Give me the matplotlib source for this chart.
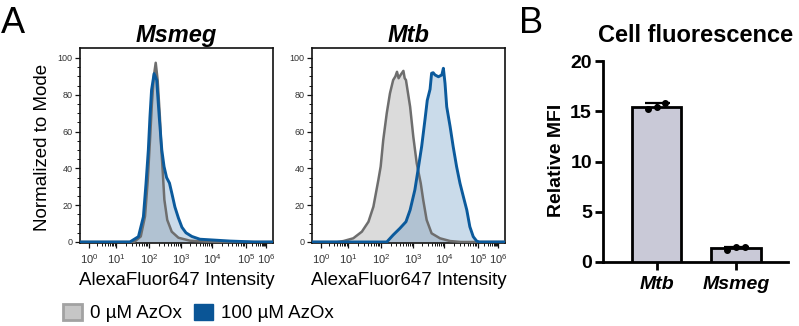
import numpy as np
import matplotlib
matplotlib.use("Agg")
import matplotlib.pyplot as plt
from matplotlib.patches import Patch
from matplotlib.ticker import FixedLocator, NullFormatter

plt.rcParams['font.family'] = ['Liberation Sans', 'DejaVu Sans']
plt.rcParams['mathtext.fontset'] = 'custom'
plt.rcParams['mathtext.rm'] = 'Liberation Sans'
plt.rcParams['mathtext.it'] = 'Liberation Sans:italic'
plt.rcParams['mathtext.bf'] = 'Liberation Sans:bold'

# ---------------- data ----------------
# histograms: x = log10(AlexaFluor647 intensity), y = % of mode
msmeg_0_x = [-0.33, 1.55, 1.75, 1.88, 1.96, 2.03, 2.09, 2.15, 2.21, 2.27, 2.34, 2.38,
             2.42, 2.48, 2.57, 2.71, 2.92, 3.29, 3.80, 4.30, 6.35]
msmeg_0_y = [0, 0, 3, 14, 33, 55, 75, 90, 97.4, 88, 68, 52,
             41, 23, 12, 5.6, 2.3, 0.7, 0.2, 0, 0]
msmeg_100_x = [-0.33, 1.42, 1.68, 1.83, 1.91, 1.98, 2.03, 2.08, 2.16, 2.24, 2.32, 2.40,
               2.47, 2.55, 2.64, 2.72, 2.81, 2.92, 3.03, 3.16, 3.35, 3.61, 4.09, 4.53,
               4.97, 5.40, 6.35]
msmeg_100_y = [0, 0, 2.9, 13.7, 31.9, 50, 68, 82.6, 91.5, 88, 68, 50,
               41, 35, 32, 26, 19, 13, 8, 5, 3, 1.5, 1, 0.5,
               0.2, 0, 0]
mtb_0_x = [-0.33, 0.60, 0.83, 1.16, 1.42, 1.62, 1.77, 1.92, 1.99, 2.07, 2.18, 2.28,
           2.38, 2.45, 2.50, 2.55, 2.62, 2.70, 2.74, 2.78, 2.91, 3.01, 3.12, 3.25,
           3.33, 3.44, 3.60, 3.87, 4.18, 4.50, 6.35]
mtb_0_y = [0, 0, 0.5, 2, 5.6, 11, 19.2, 33.7, 41, 55.4, 70, 80.8,
           88, 90, 92.5, 89, 91, 93, 89, 88, 73.5, 57.2, 42.8, 31.9,
           22.8, 12, 4.7, 2, 0.5, 0, 0]
mtb_100_x = [-0.33, 2.18, 2.38, 2.59, 2.78, 2.91, 3.06, 3.17, 3.28, 3.39, 3.46, 3.55,
             3.60, 3.65, 3.71, 3.82, 3.93, 3.98, 4.03, 4.08, 4.18, 4.27, 4.37, 4.47,
             4.57, 4.67, 4.76, 4.86, 4.96, 5.06, 6.35]
mtb_100_y = [0, 0, 3.8, 7.4, 11, 17.4, 28.3, 40, 52, 67, 77, 83,
             91.7, 92, 90.8, 89.8, 90.8, 94.4, 86.2, 73.5, 62.7, 51.8, 41, 31.9,
             24.6, 17.4, 8.3, 2.9, 0.5, 0, 0]

decades = [0, 1, 2, 3, 4, 5, 6]
legend_labels = ['0 µM AzOx', '100 µM AzOx']

# bar chart
bar_categories = ['Mtb', 'Msmeg']
mtb_mfi = [15.2, 15.4, 15.8]
msmeg_mfi = [1.2, 1.45, 1.45]

# ---------------- styles ----------------
GRAY_LINE = '#6e6e6e'
GRAY_FILL = '#d2d2d2'
BLUE_LINE = '#0b5a9c'
BLUE_FILL = '#5b8fc0'
BAR_FILL = '#c9c9d7'

# axis scale of the flow-cytometry plots (decade -> axis units)
_D = np.array([-1, 0, 1, 2, 3, 4, 5, 6, 7], float)
_P = np.array([-18, 9, 36, 69, 101, 132, 166, 186, 206], float)


def fwd(x):
    return np.interp(x, _D, _P)


def inv(p):
    return np.interp(p, _P, _D)


XLIM = (inv(0.0), inv(193.0))

fig = plt.figure(figsize=(7.99, 3.26), dpi=100)
W, H = 799.0, 326.0


def ax_rect(x0, y0, x1, y1):
    return [x0 / W, 1 - y1 / H, (x1 - x0) / W, (y1 - y0) / H]


ax1 = fig.add_axes(ax_rect(80, 48, 273, 242.9))
ax2 = fig.add_axes(ax_rect(312, 48, 505, 242.9))

minor_pos = [d + np.log10(k) for d in range(0, 6) for k in range(2, 10)]

for ax, title, (x0, y0, x1, y1) in [
        (ax1, 'Msmeg', (msmeg_0_x, msmeg_0_y, msmeg_100_x, msmeg_100_y)),
        (ax2, 'Mtb', (mtb_0_x, mtb_0_y, mtb_100_x, mtb_100_y))]:
    ax.set_xscale('function', functions=(fwd, inv))
    ax.fill_between(x0, y0, 0, color=GRAY_FILL, alpha=0.8, lw=0, zorder=1)
    ax.fill_between(x1, y1, 0, color=BLUE_FILL, alpha=0.32, lw=0, zorder=2)
    ax.plot(x0, y0, color=GRAY_LINE, lw=1.8, zorder=3)
    ax.plot(x1, y1, color=BLUE_LINE, lw=2.1, zorder=4)
    ax.set_xlim(*XLIM)
    ax.set_ylim(-0.5, 105.43)
    ax.xaxis.set_major_locator(FixedLocator(decades))
    ax.xaxis.set_minor_locator(FixedLocator(minor_pos))
    ax.xaxis.set_minor_formatter(NullFormatter())
    ax.set_xticklabels([f'$10^{{{d}}}$' for d in decades])
    ax.set_yticks([0, 20, 40, 60, 80, 100])
    ax.set_yticks(np.arange(0, 105, 5), minor=True)
    ax.tick_params(axis='both', which='major', direction='out', length=3.5,
                   width=0.9, labelsize=6.5, pad=2, colors='#111111',
                   labelcolor='#333333')
    ax.tick_params(axis='both', which='minor', direction='out', length=2,
                   width=0.7, colors='#111111')
    ax.tick_params(axis='x', which='major', labelsize=8, pad=3)
    for s in ax.spines.values():
        s.set_linewidth(1.2)
        s.set_color('#111111')
    ax.set_title(title, fontsize=17, fontweight='bold', fontstyle='italic', pad=4)
    ax.set_xlabel('AlexaFluor647 Intensity', fontsize=13.5)
    ax.xaxis.label.set_verticalalignment('baseline')
    ax.xaxis.set_label_coords(0.5, (242.9 - 285) / 194.9)

ax1.set_ylabel('Normalized to Mode', fontsize=13.5)
ax1.yaxis.set_label_coords((51 - 80) / 193.0, 0.49)

# legend
handles = [Patch(facecolor='#c6c6c6', edgecolor='#a2a2a2', lw=2),
           Patch(facecolor='#0a5596', edgecolor='#0a5596', lw=1)]
fig.legend(handles, legend_labels, loc='center left',
           bbox_to_anchor=(63 / W, 1 - 313 / H), ncol=2, frameon=False,
           fontsize=13.5, handlelength=1.0, handleheight=1.0,
           handletextpad=0.45, columnspacing=0.65, borderpad=0, borderaxespad=0)

# bar chart
ax3 = fig.add_axes(ax_rect(603, 61, 788, 262))
vals = [mtb_mfi, msmeg_mfi]
xpos = np.arange(len(bar_categories))
means = [np.mean(v) for v in vals]
sds = [np.std(v, ddof=1) for v in vals]
ax3.errorbar(xpos, means, yerr=sds, fmt='none', ecolor='black', elinewidth=1.6,
             capsize=9, capthick=1.6, zorder=2)
ax3.bar(xpos, means, width=0.62, color=BAR_FILL, edgecolor='black', lw=2, zorder=3)
jit = [-0.11, 0.0, 0.11]
for xi, v in zip(xpos, vals):
    ax3.plot(xi + np.array(jit), v, 'o', color='black', ms=4, zorder=4)
ax3.set_xlim(-0.673, 1.654)
ax3.set_ylim(0, 20)
ax3.set_yticks([0, 5, 10, 15, 20])
ax3.set_xticks(xpos)
ax3.set_xticklabels(bar_categories, fontsize=14, fontweight='bold', fontstyle='italic')
for lab in ax3.get_yticklabels():
    lab.set_fontsize(14)
    lab.set_fontweight('bold')
ax3.spines['top'].set_visible(False)
ax3.spines['right'].set_visible(False)
ax3.spines['left'].set_linewidth(2)
ax3.spines['bottom'].set_linewidth(2)
ax3.tick_params(axis='both', direction='out', length=6, width=2, pad=2)
ax3.tick_params(axis='x', pad=4)
ax3.set_ylabel('Relative MFI', fontsize=14, fontweight='bold')
ax3.yaxis.set_label_coords((565 - 603) / 185.0, 0.505)
ax3.set_title('Cell fluorescence', fontsize=17, fontweight='bold', pad=14)

fig.text(1 / W, 1 - 33 / H, 'A', fontsize=26, va='baseline', ha='left')
fig.text(519 / W, 1 - 33 / H, 'B', fontsize=26, va='baseline', ha='left')

fig.savefig('out.png', dpi=100)
